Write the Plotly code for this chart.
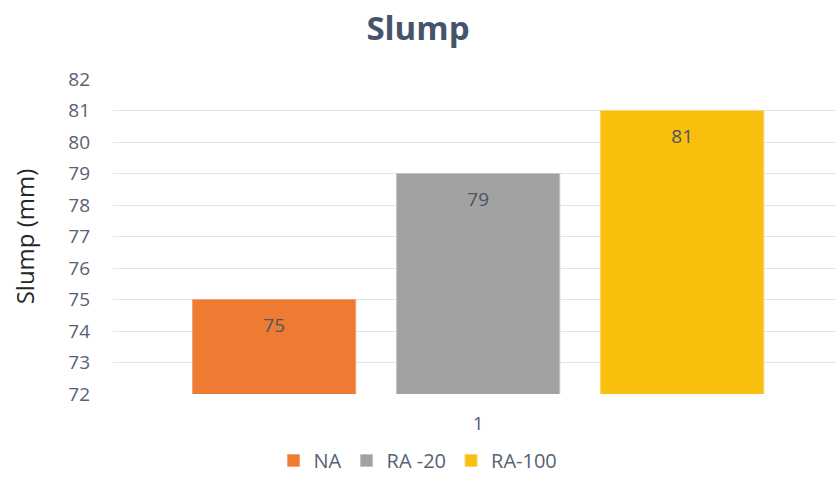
import plotly.graph_objects as go

# Slump test results per mix
categories = ["1"]
series_names = ["NA", "RA -20", "RA-100"]
slump_na = [75]
slump_ra20 = [79]
slump_ra100 = [81]
y_ticks = [72, 73, 74, 75, 76, 77, 78, 79, 80, 81, 82]

series_values = [slump_na, slump_ra20, slump_ra100]
fill_colors = ["#EF7B33", "#A2A2A2", "#F8C00C"]
edge_colors = ["#F4A277", "#C4C4C4", "#FBD36A"]

FONT = "Open Sans"
TEXT_COLOR = "#566273"
SLATE = "#44546A"

fig = go.Figure()
for name, vals, fc, ec in zip(series_names, series_values, fill_colors, edge_colors):
    fig.add_trace(go.Bar(
        name=name,
        x=categories,
        y=vals,
        marker=dict(color=fc, line=dict(color=ec, width=1)),
        text=vals,
        texttemplate="<span style='font-size:5px'> </span><br>%{y}",
        textposition="inside",
        insidetextanchor="end",
        textfont=dict(family=FONT, size=19, color="#4A5566"),
        constraintext="none",
    ))

fig.update_layout(
    width=836,
    height=480,
    paper_bgcolor="white",
    plot_bgcolor="white",
    margin=dict(l=113, r=0, t=79, b=86),
    barmode="group",
    bargap=0.162,
    bargroupgap=0.2,
    title=dict(
        text="<b>Slump</b>",
        x=0.5, xref="container", xanchor="center",
        y=0.94, yref="container", yanchor="middle",
        font=dict(family=FONT, size=33, color=SLATE),
    ),
    legend=dict(
        orientation="h",
        xref="container", x=0.5, xanchor="center",
        yref="container", y=0.0, yanchor="bottom",
        font=dict(family=FONT, size=20, color=TEXT_COLOR),
        itemwidth=30,
        traceorder="normal",
    ),
    showlegend=True,
)

fig.update_xaxes(
    type="category",
    range=[-0.5, 0.49],
    showgrid=False,
    showline=False,
    ticks="",
    ticklabelstandoff=16,
    tickfont=dict(family=FONT, size=19, color=TEXT_COLOR),
)

fig.update_yaxes(
    range=[72, 82],
    tickvals=y_ticks,
    showgrid=True,
    gridcolor="#E1E4E9",
    gridwidth=1,
    zeroline=False,
    showline=False,
    ticks="",
    ticklabelstandoff=22,
    tickfont=dict(family=FONT, size=19, color=TEXT_COLOR),
    title=dict(text="Slump (mm)", standoff=26,
               font=dict(family=FONT, size=24, color="#262626")),
)

fig.write_html("out.html")
